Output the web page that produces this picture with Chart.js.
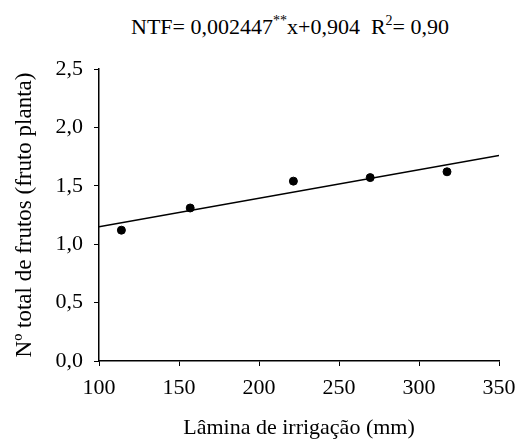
<!DOCTYPE html>
<html>
<head>
<meta charset="utf-8">
<script src="https://cdn.jsdelivr.net/npm/chart.js@4/dist/chart.umd.min.js"></script>
<style>
  html, body { margin: 0; padding: 0; background: #fff; }
  #wrap { position: relative; width: 518px; height: 445px; }
  #eq {
    position: absolute; left: 0; right: 0; top: 14px;
    text-align: center; padding-left: 62px;
    font-family: 'Liberation Serif', serif;
    font-size: 22px; color: #000; white-space: pre;
  }
  #eq sup { font-size: 14px; vertical-align: 9px; line-height: 0; }
  canvas { position: absolute; left: 0; top: 0; }
</style>
</head>
<body>
<div id="wrap">
  <div id="eq">NTF= 0,002447<sup>**</sup>x+0,904  R<sup>2</sup>= 0,90</div>
  <canvas id="chart" width="518" height="445"></canvas>
</div>
<script>
const laminas = [114, 157, 221.5, 269.5, 317.5];
const frutos = [1.12, 1.31, 1.54, 1.57, 1.62];

// Fitted line NTF = 0,002447x + 0,904, endpoints
const lineX = [100, 350];
const lineY = [1.149, 1.76];

const xTicks = [100, 150, 200, 250, 300, 350];
const yTicks = [0, 0.5, 1.0, 1.5, 2.0, 2.5];

const serif = "'Liberation Serif', serif";

function drawChart() {
  new Chart(document.getElementById("chart"), {
    type: "scatter",
    data: {
      datasets: [
        {
          type: "line",
          label: "Ajuste",
          data: lineX.map((x, i) => ({ x: x, y: lineY[i] })),
          borderColor: "#000",
          borderWidth: 1.5,
          pointRadius: 0,
          fill: false,
        },
        {
          label: "NTF",
          data: laminas.map((x, i) => ({ x: x, y: frutos[i] })),
          backgroundColor: "#000",
          borderColor: "#000",
          pointRadius: 4,
          pointHoverRadius: 4,
        },
      ],
    },
    options: {
      responsive: false,
      animation: false,
      layout: { padding: { left: 0, right: 19, top: 69, bottom: 0 } },
      plugins: {
        legend: { display: false },
        tooltip: { enabled: false },
      },
      scales: {
        x: {
          type: "linear",
          min: 100,
          max: 350,
          afterBuildTicks: (scale) => {
            scale.ticks = xTicks.map((v) => ({ value: v }));
          },
          afterFit: (scale) => {
            scale.height = 84;
            // keep the plot edge fixed; layout padding already leaves room for "350"
            scale.paddingLeft = 0;
            scale.paddingRight = 0;
          },
          grid: {
            drawOnChartArea: false,
            drawTicks: true,
            tickLength: 5,
            color: "#000",
          },
          border: { color: "#000", width: 1.5 },
          ticks: {
            color: "#000",
            font: { family: serif, size: 22 },
            padding: 9,
            maxRotation: 0,
          },
          title: {
            display: true,
            text: "Lâmina de irrigação (mm)",
            color: "#000",
            font: { family: serif, size: 22 },
            padding: { top: 0, bottom: 4 },
          },
        },
        y: {
          min: 0,
          max: 2.5,
          afterBuildTicks: (scale) => {
            scale.ticks = yTicks.map((v) => ({ value: v }));
          },
          afterFit: (scale) => {
            scale.width = 99;
          },
          grid: {
            drawOnChartArea: false,
            drawTicks: true,
            tickLength: 5,
            color: "#000",
          },
          border: { color: "#000", width: 1.5 },
          ticks: {
            color: "#000",
            font: { family: serif, size: 22 },
            padding: 11,
            callback: (v) => v.toFixed(1).replace(".", ","),
          },
          title: {
            display: true,
            text: "Nº total de frutos (fruto planta)",
            color: "#000",
            font: { family: serif, size: 23 },
            padding: { top: 11, bottom: 0 },
          },
        },
      },
    },
  });
}

// make sure the serif face is ready before the canvas draws text
document.fonts.load("22px 'Liberation Serif'").then(drawChart, drawChart);
</script>
</body>
</html>
